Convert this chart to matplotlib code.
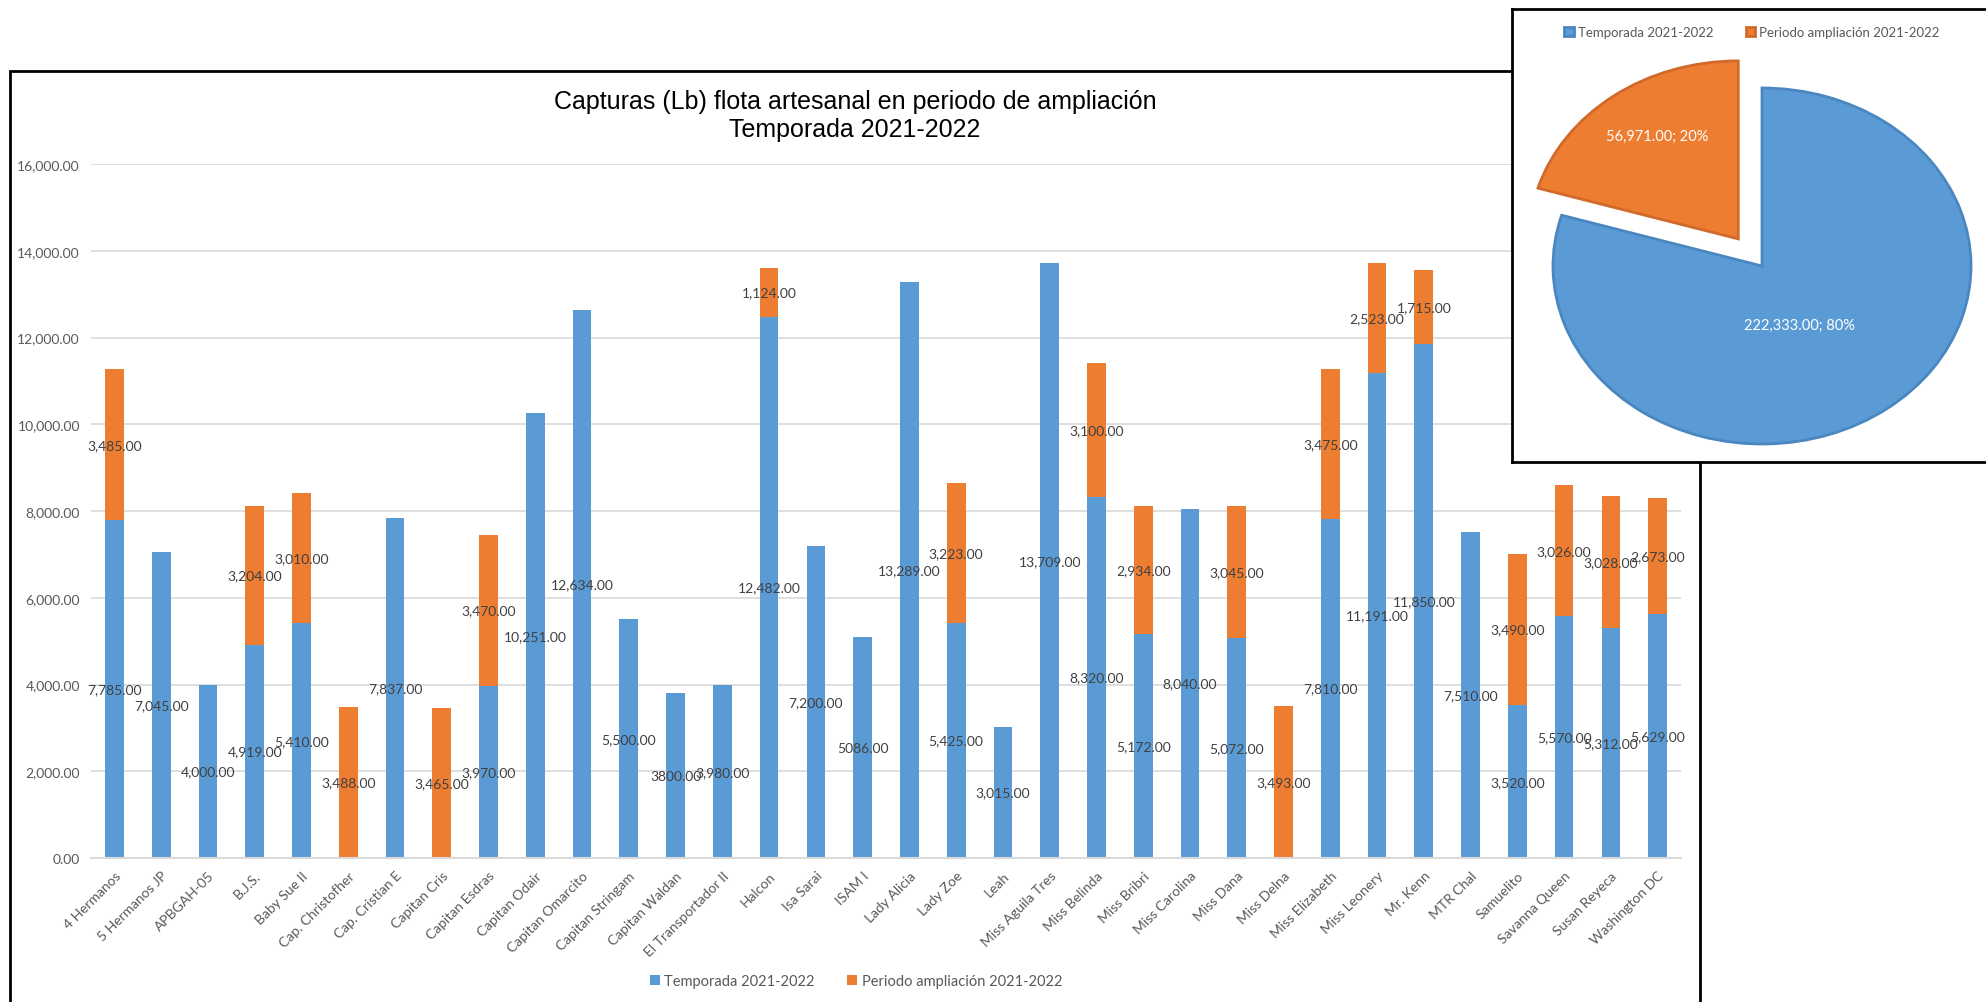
import matplotlib.pyplot as plt
from matplotlib.patches import Rectangle

# datos de capturas por embarcacion (Lb)
embarcaciones = ['4 Hermanos', '5 Hermanos JP', 'APBGAH-05', 'B.J.S.', 'Baby Sue II',
                 'Cap. Christofher', 'Cap. Cristian E', 'Capitan Cris', 'Capitan Esdras',
                 'Capitan Odair', 'Capitan Omarcito', 'Capitan Stringam', 'Capitan Waldan',
                 'El Transportador II', 'Halcon', 'Isa Sarai', 'ISAM I', 'Lady Alicia',
                 'Lady Zoe', 'Leah', 'Miss Aguila Tres', 'Miss Belinda', 'Miss Bribri',
                 'Miss Carolina', 'Miss Dana', 'Miss Delna', 'Miss Elizabeth', 'Miss Leonery',
                 'Mr. Kenn', 'MTR Chal', 'Samuelito', 'Savanna Queen', 'Susan Reyeca',
                 'Washington DC']
temporada = [7785, 7045, 4000, 4919, 5410, 0, 7837, 0, 3970, 10251, 12634, 5500, 3800,
             3980, 12482, 7200, 5086, 13289, 5425, 3015, 13709, 8320, 5172, 8040, 5072,
             0, 7810, 11191, 11850, 7510, 3520, 5570, 5312, 5629]
ampliacion = [3485, 0, 0, 3204, 3010, 3488, 0, 3465, 3470, 0, 0, 0, 0, 0, 1124, 0, 0, 0,
              3223, 0, 0, 3100, 2934, 0, 3045, 3493, 3475, 2523, 1715, 0, 3490, 3026,
              3028, 2673]
# etiquetas escritas sin separador de miles en el original
etiquetas_especiales = {12: '3800.00', 16: '5086.00'}
yticks = list(range(0, 16001, 2000))
series = ['Temporada 2021-2022', 'Periodo ampliación 2021-2022']

azul = '#5B9BD5'
naranja = '#ED7D31'
gris = '#595959'

plt.rcParams['font.family'] = ['Lato', 'DejaVu Sans']

W, H = 1986, 1003
fig = plt.figure(figsize=(W / 100, H / 100), dpi=100)

# marco del grafico principal
fig.patches.append(Rectangle((10 / W, -0.01), 1690 / W, 1.01 - 72 / H, transform=fig.transFigure,
                             fill=False, ec='black', lw=2, zorder=1))

ax = fig.add_axes([91 / W, 144 / H, 1590 / W, 694 / H])
x = list(range(len(embarcaciones)))
b1 = ax.bar(x, temporada, width=0.4, color=azul, label=series[0])
b2 = ax.bar(x, ampliacion, width=0.4, bottom=temporada, color=naranja, label=series[1])

lab_t = []
for i, v in enumerate(temporada):
    if v == 0:
        lab_t.append('')
    else:
        lab_t.append(etiquetas_especiales.get(i, f'{v:,.2f}'))
lab_a = ['' if v == 0 else f'{v:,.2f}' for v in ampliacion]
ax.bar_label(b1, labels=lab_t, label_type='center', fontsize=10, color='#404040')
ax.bar_label(b2, labels=lab_a, label_type='center', fontsize=10, color='#404040')

ax.set_xlim(-0.5, len(embarcaciones) - 0.5)
ax.set_ylim(0, 16000)
ax.set_yticks(yticks)
ax.set_yticklabels([f'{v:,.2f}' for v in yticks])
ax.set_xticks(x)
ax.set_xticklabels(embarcaciones, rotation=45, ha='right', rotation_mode='anchor')
ax.tick_params(axis='y', length=0, labelsize=10, labelcolor=gris, pad=8)
ax.tick_params(axis='x', length=0, labelsize=10, labelcolor=gris, pad=8)
ax.yaxis.grid(True, color='#D9D9D9', lw=1.2)
ax.set_axisbelow(True)
for s in ['top', 'right', 'left']:
    ax.spines[s].set_visible(False)
ax.spines['bottom'].set_color('#D9D9D9')
ax.spines['bottom'].set_linewidth(1.5)

ax.legend(loc='center', bbox_to_anchor=(856 / W, 1 - 982 / H), bbox_transform=fig.transFigure,
          ncol=2, frameon=False, fontsize=10.5, labelcolor=gris, handlelength=0.7,
          handleheight=0.7, handletextpad=0.3, columnspacing=2.2)

fig.text(855 / W, 1 - 116 / H,
         'Capturas (Lb) flota artesanal en periodo de ampliación\nTemporada 2021-2022',
         ha='center', va='center', fontsize=18, family='Liberation Sans', linespacing=1.2)

# recuadro del grafico circular
box = fig.add_axes([1512 / W, 1 - 463 / H, 480 / W, 453 / H], zorder=5)
box.set_xticks([])
box.set_yticks([])
box.set_facecolor('white')
for s in box.spines.values():
    s.set_linewidth(2)
    s.set_color('black')

totales = [sum(temporada), sum(ampliacion)]
total = sum(totales)
pa = fig.add_axes([1553 / W, 1 - 445 / H, 418 / W, 356 / H], zorder=6)
wedges, texts, autotexts = pa.pie(
    totales, colors=[azul, naranja], startangle=90, counterclock=False,
    explode=[0, 0.19], autopct=lambda p: f'{p * total / 100:,.2f}; {p:.0f}%',
    textprops=dict(color='white', fontsize=10.5))
wedges[0].set_edgecolor('#4A86BF')
wedges[1].set_edgecolor('#D0692A')
for w in wedges:
    w.set_linewidth(2)
    w.set_clip_on(False)
pa.set_aspect('auto')
pa.set_xlim(-1, 1)
pa.set_ylim(-1, 1)
autotexts[0].set_position((0.18, -0.33))
autotexts[1].set_position((-0.50, 0.73))

box.legend(wedges, series, loc='center', bbox_to_anchor=(1752 / W, 1 - 33 / H),
           bbox_transform=fig.transFigure, ncol=2, frameon=False, fontsize=9.5,
           labelcolor=gris, handlelength=0.7, handleheight=0.7, handletextpad=0.3,
           columnspacing=2.5)

fig.savefig('out.png', dpi=100)
